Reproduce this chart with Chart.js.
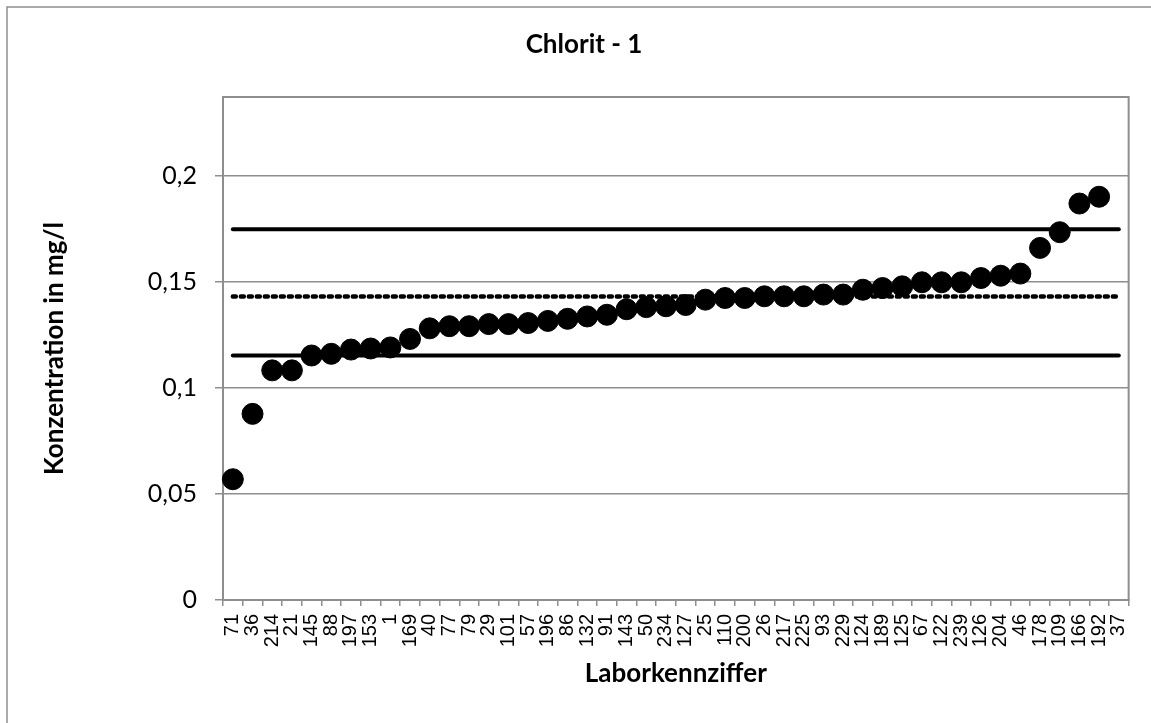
<!DOCTYPE html>
<html>
<head>
<meta charset="utf-8">
<script src="https://cdn.jsdelivr.net/npm/chart.js@4.4.1/dist/chart.umd.min.js"></script>
<style>
  html, body { margin: 0; padding: 0; background: #fff; }
  #wrap { width: 1151px; height: 723px; }
</style>
</head>
<body>
<div id="wrap"><canvas id="chart" width="1151" height="723"></canvas></div>
<script>
// Laborkennziffern (x-Achse)
const labs = ['71','36','214','21','145','88','197','153','1','169','40','77','79','29','101','57','196','86','132','91','143','50','234','127','25','110','200','26','217','225','93','229','124','189','125','67','122','239','126','204','46','178','109','166','192','37'];

// Messwerte in mg/l (Labor 37 ohne Wert)
const konz = [0.0569,0.0877,0.1082,0.1082,0.1152,0.1160,0.1180,0.1185,0.1190,0.1230,0.1280,0.1290,0.1290,0.1300,0.1300,0.1305,0.1315,0.1325,0.1336,0.1344,0.1370,0.1380,0.1384,0.1390,0.1415,0.1423,0.1423,0.1431,0.1431,0.1431,0.1439,0.1439,0.1462,0.1470,0.1478,0.1497,0.1497,0.1497,0.1517,0.1528,0.1538,0.1659,0.1733,0.1868,0.1900,null];

// Toleranzgrenzen und Mittelwert
const upperLimit = 0.1747;
const meanValue = 0.1430;
const lowerLimit = 0.1152;

const yTicks = [0, 0.05, 0.1, 0.15, 0.2];

const gray = '#8e8e8e';

// Rahmen um Diagramm und Zeichenfläche
const framePlugin = {
  id: 'frame',
  beforeDraw(chart) {
    const ctx = chart.ctx, a = chart.chartArea;
    ctx.save();
    ctx.strokeStyle = gray;
    ctx.lineWidth = 1.5;
    ctx.beginPath();
    ctx.moveTo(7, 723);
    ctx.lineTo(7, 7);
    ctx.lineTo(1151, 7);
    ctx.stroke();
    ctx.lineWidth = 2;
    ctx.strokeRect(a.left, a.top, a.right - a.left, a.bottom - a.top);
    ctx.restore();
  }
};

const fmt = v => String(Math.round(v * 100) / 100).replace('.', ',');

new Chart(document.getElementById('chart'), {
  type: 'line',
  data: {
    labels: labs,
    datasets: [
      {
        label: 'Messwert',
        data: konz,
        showLine: false,
        pointRadius: 10.5,
        pointHoverRadius: 10.5,
        pointBackgroundColor: '#000',
        pointBorderColor: '#000',
        pointBorderWidth: 1
      },
      {
        label: 'obere Grenze',
        data: labs.map(() => upperLimit),
        borderColor: '#000',
        borderWidth: 4,
        borderCapStyle: 'round',
        pointRadius: 0
      },
      {
        label: 'Mittelwert',
        data: labs.map(() => meanValue),
        borderColor: '#000',
        borderWidth: 4.5,
        borderCapStyle: 'round',
        borderDash: [3, 5],
        pointRadius: 0
      },
      {
        label: 'untere Grenze',
        data: labs.map(() => lowerLimit),
        borderColor: '#000',
        borderWidth: 4,
        borderCapStyle: 'round',
        pointRadius: 0
      }
    ]
  },
  options: {
    responsive: false,
    animation: false,
    layout: { padding: { left: 36, right: 19, top: 0, bottom: 0 } },
    plugins: {
      legend: { display: false },
      tooltip: { enabled: false },
      title: {
        display: true,
        text: 'Chlorit - 1',
        color: '#000',
        font: { family: 'Lato', size: 26, weight: 'bold' },
        padding: { top: 29, bottom: 36.8 }
      }
    },
    scales: {
      x: {
        offset: true,
        grid: { offset: true, drawOnChartArea: false, drawTicks: true, tickLength: 6, color: gray, lineWidth: 1.5 },
        border: { color: gray, width: 1.5 },
        ticks: {
          autoSkip: false, minRotation: 90, maxRotation: 90, padding: 8,
          color: '#000', font: { family: 'Liberation Sans', size: 20 }
        },
        title: {
          display: true, text: 'Laborkennziffer', color: '#000',
          font: { family: 'Lato', size: 26, weight: 'bold' },
          padding: { top: 0, bottom: 34 }
        },
        afterFit: s => { s.height = 123; }
      },
      y: {
        min: 0,
        max: 0.237,
        grid: { color: gray, lineWidth: 1.5, tickLength: 8 },
        border: { color: gray, width: 1.5 },
        afterBuildTicks: s => { s.ticks = yTicks.map(v => ({ value: v })); },
        ticks: {
          padding: 18, color: '#000',
          font: { family: 'Lato', size: 25 },
          callback: v => fmt(v)
        },
        title: {
          display: true, text: 'Konzentration in mg/l', color: '#000',
          font: { family: 'Lato', size: 26, weight: 'bold' },
          padding: { top: 3, bottom: 0 }
        },
        afterFit: s => { s.width = 187; }
      }
    }
  },
  plugins: [framePlugin]
});
</script>
</body>
</html>
